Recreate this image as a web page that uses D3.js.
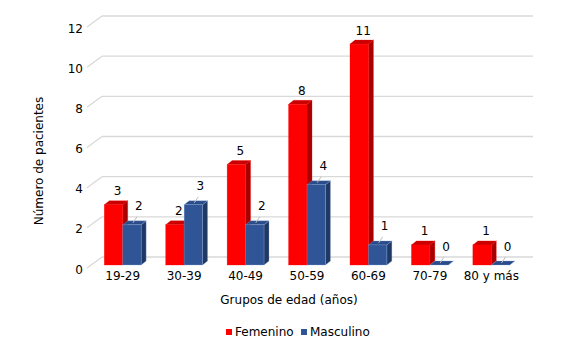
<!DOCTYPE html>
<html><head><meta charset="utf-8">
<script src="https://cdn.jsdelivr.net/npm/d3@7"></script>
<style>body{margin:0;background:#fff}svg{display:block;font-family:"DejaVu Sans",Verdana,sans-serif}</style>
</head><body><svg id="c" width="580" height="349"></svg>
<script>
const categories = ["19-29","30-39","40-49","50-59","60-69","70-79","80 y más"];
const femenino = [3,2,5,8,11,1,1];
const masculino = [2,3,2,4,1,0,0];
const seriesNames = ["Femenino","Masculino"];
const yTicks = [0,2,4,6,8,10,12];

const svg = d3.select("#c");
const x = d3.scaleBand().domain(categories).range([92,522]).paddingInner(0.4).paddingOuter(0.2);
const xs = d3.scaleBand().domain(seriesNames).range([0,x.bandwidth()]);
const y = d3.scaleLinear().domain([0,12]).range([265,24]);

// wall offsets relative to bar front plane
const backDx = 10, backDy = -8, frontDx = -5, frontDy = 3;
const wallX0 = 92, wallX1 = 523;
const g = svg.append("g");
yTicks.forEach(t=>{
  const yy = y(t);
  g.append("line").attr("x1",wallX0+backDx).attr("x2",wallX1+backDx).attr("y1",yy+backDy).attr("y2",yy+backDy)
   .attr("stroke","#d9d9d9").attr("stroke-width",1.3);
  g.append("line").attr("x1",wallX0+backDx).attr("x2",wallX0+frontDx).attr("y1",yy+backDy).attr("y2",yy+frontDy)
   .attr("stroke","#d9d9d9").attr("stroke-width",1.3);
  g.append("text").attr("x",83).attr("y",yy+frontDy+2).attr("text-anchor","end").attr("dominant-baseline","middle")
   .attr("font-size",12).attr("fill","#000").text(t);
});

const dx = 5, dy = -4;
const colors = {
  Femenino:{front:"#ff0000",side:"#a80000",top:"#c80000",edge:"#ff0000"},
  Masculino:{front:"#2f5597",side:"#1f3864",top:"#2a4c8a",edge:"#8faadc"}
};
const data = [];
categories.forEach((c,i)=>{
  data.push({c,s:"Femenino",v:femenino[i]});
  data.push({c,s:"Masculino",v:masculino[i]});
});
const bars = svg.append("g");
data.forEach(d=>{
  const x0 = x(d.c)+xs(d.s), w = xs.bandwidth();
  const y0 = y(0), yt = y(d.v);
  const col = colors[d.s];
  // side
  bars.append("path").attr("d",`M${x0+w},${yt}L${x0+w+dx},${yt+dy}L${x0+w+dx},${y0+dy}L${x0+w},${y0}Z`).attr("fill",col.side)
    .attr("stroke",col.edge).attr("stroke-width",0.5).attr("stroke-opacity",0.6);
  // top
  bars.append("path").attr("d",`M${x0},${yt}L${x0+dx},${yt+dy}L${x0+w+dx},${yt+dy}L${x0+w},${yt}Z`).attr("fill",col.top)
    .attr("stroke",col.edge).attr("stroke-width",0.5).attr("stroke-opacity",0.6);
  // front
  if (d.v>0) bars.append("rect").attr("x",x0).attr("y",yt).attr("width",w).attr("height",y0-yt).attr("fill",col.front)
    .attr("stroke",col.edge).attr("stroke-width",0.5).attr("stroke-opacity",0.6);
  const cx = x0 + w/2;
  if (d.s==="Femenino") {
    bars.append("text").attr("x",cx+4).attr("y",yt-13).attr("text-anchor","middle").attr("dominant-baseline","middle")
      .attr("font-size",12).text(d.v);
  } else {
    bars.append("line").attr("x1",cx+1).attr("y1",yt-2).attr("x2",cx+5).attr("y2",yt-8).attr("stroke","#bfbfbf").attr("stroke-width",1);
    bars.append("text").attr("x",cx+7).attr("y",yt-18).attr("text-anchor","middle").attr("dominant-baseline","middle")
      .attr("font-size",12).text(d.v);
  }
});

// x labels
categories.forEach(c=>{
  svg.append("text").attr("x",x(c)+x.bandwidth()/2).attr("y",276).attr("text-anchor","middle").attr("dominant-baseline","middle")
    .attr("font-size",12).text(c);
});
svg.append("text").attr("x",289).attr("y",300).attr("text-anchor","middle").attr("dominant-baseline","middle")
  .attr("font-size",12).text("Grupos de edad (años)");
svg.append("text").attr("transform","translate(39,161) rotate(-90)").attr("text-anchor","middle").attr("dominant-baseline","middle")
  .attr("font-size",12).text("Número de pacientes");

// legend
const leg = svg.append("g");
const legX = [226,301];
seriesNames.forEach((s,i)=>{
  leg.append("rect").attr("x",legX[i]).attr("y",329).attr("width",6).attr("height",6).attr("fill",colors[s].front);
  leg.append("text").attr("x",legX[i]+9).attr("y",332).attr("dominant-baseline","middle").attr("font-size",12).text(s);
});
</script></body></html>
